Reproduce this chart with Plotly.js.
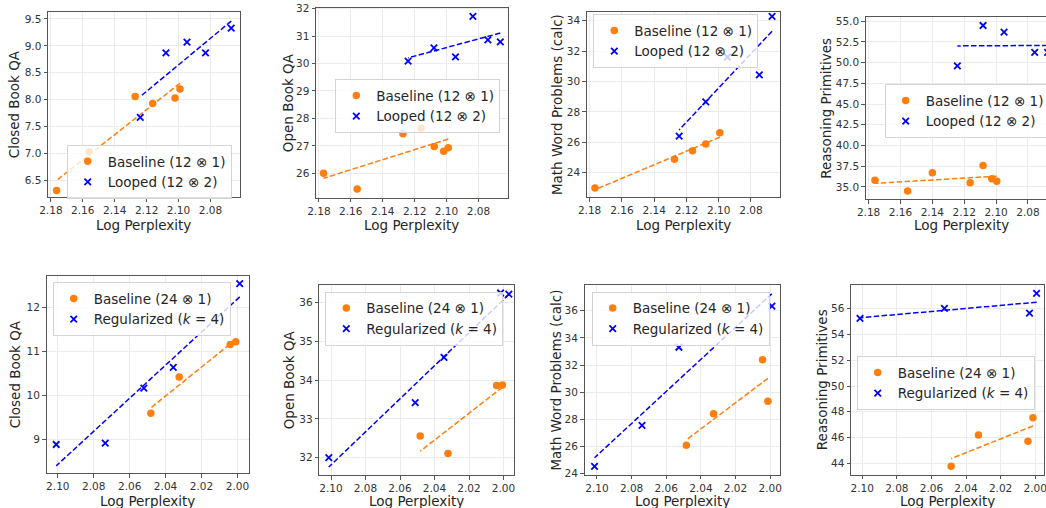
<!DOCTYPE html>
<html><head><meta charset="utf-8">
<script src="https://cdn.plot.ly/plotly-3.0.1.min.js"></script>
<style>html,body{margin:0;padding:0;overflow:hidden;background:#fff;width:1046px;height:508px}#chart{width:1060px;height:508px}</style>
</head><body><div id="chart"></div><script>
// ---------------- data ----------------
const topNames = ["Baseline (12 ⊗ 1)", "Looped (12 ⊗ 2)"];
const bottomNames = ["Baseline (24 ⊗ 1)", "Regularized (<i>k</i> = 4)"];
const yTitles = ["Closed Book QA", "Open Book QA", "Math Word Problems (calc)", "Reasoning Primitives",
                 "Closed Book QA", "Open Book QA", "Math Word Problems (calc)", "Reasoning Primitives"];
const xTitle = "Log Perplexity";

// top row: 12-layer baseline vs looped
const cbqaBase12X = [2.1764, 2.1561, 2.1272, 2.1162, 2.1022, 2.0991];
const cbqaBase12Y = [6.31, 7.03, 8.06, 7.93, 8.03, 8.20];
const cbqaLoopX   = [2.1240, 2.1079, 2.0947, 2.0831, 2.0670];
const cbqaLoopY   = [7.67, 8.87, 9.07, 8.87, 9.33];

const obqaBase12X = [2.1771, 2.1560, 2.1273, 2.1160, 2.1077, 2.1018, 2.0989];
const obqaBase12Y = [26.00, 25.43, 27.44, 27.64, 26.98, 26.80, 26.93];
const obqaLoopX   = [2.1241, 2.1079, 2.0944, 2.0835, 2.0741, 2.0663];
const obqaLoopY   = [30.09, 30.57, 30.24, 31.72, 30.86, 30.79];

const mathBase12X = [2.1767, 2.1274, 2.1162, 2.1080, 2.0993];
const mathBase12Y = [22.99, 24.88, 25.45, 25.88, 26.63];
const mathLoopX   = [2.1245, 2.1080, 2.0946, 2.0748, 2.0669];
const mathLoopY   = [26.41, 28.66, 31.61, 30.43, 34.28];

const reasBase12X = [2.1760, 2.1555, 2.1400, 2.1163, 2.1082, 2.1027, 2.0996];
const reasBase12Y = [35.80, 34.52, 36.72, 35.52, 37.60, 36.00, 35.68];
const reasLoopX   = [2.1243, 2.1082, 2.0950, 2.0758, 2.0677];
const reasLoopY   = [49.60, 54.48, 53.68, 51.24, 51.24];

// bottom row: 24-layer baseline vs regularized
const cbqaBase24X = [2.0482, 2.0324, 2.0040, 2.0009];
const cbqaBase24Y = [9.60, 10.42, 11.16, 11.22];
const cbqaRegX    = [2.1009, 2.0736, 2.0521, 2.0357, 1.9987];
const cbqaRegY    = [8.89, 8.92, 10.17, 10.64, 12.54];

const obqaBase24X = [2.0483, 2.0322, 2.0040, 2.0006];
const obqaBase24Y = [32.56, 32.11, 33.86, 33.87];
const obqaRegX    = [2.1013, 2.0512, 2.0345, 2.0017, 1.9969];
const obqaRegY    = [32.00, 33.42, 34.58, 36.24, 36.21];

const mathBase24X = [2.0484, 2.0327, 2.0044, 2.0013];
const mathBase24Y = [26.10, 28.42, 32.38, 29.33];
const mathRegX    = [2.1014, 2.0740, 2.0527, 1.9990];
const mathRegY    = [24.54, 27.56, 33.31, 36.34];

const reasBase24X = [2.0486, 2.0328, 2.0042, 2.0013];
const reasBase24Y = [43.77, 46.21, 45.72, 47.53];
const reasRegX    = [2.1013, 2.0525, 2.0033, 1.9992];
const reasRegY    = [55.25, 56.03, 55.66, 57.19];

// ---------------- layout geometry (px) ----------------
const W = 1060, H = 508;
const FONT = "DejaVu Sans, Liberation Sans, sans-serif";
const ORANGE = "#ff7f0e", BLUE = "#0000ff";

const panels = [
  {a:[cbqaBase12X,cbqaBase12Y], b:[cbqaLoopX,cbqaLoopY], names:topNames},
  {a:[obqaBase12X,obqaBase12Y], b:[obqaLoopX,obqaLoopY], names:topNames},
  {a:[mathBase12X,mathBase12Y], b:[mathLoopX,mathLoopY], names:topNames},
  {a:[reasBase12X,reasBase12Y], b:[reasLoopX,reasLoopY], names:topNames},
  {a:[cbqaBase24X,cbqaBase24Y], b:[cbqaRegX,cbqaRegY], names:bottomNames},
  {a:[obqaBase24X,obqaBase24Y], b:[obqaRegX,obqaRegY], names:bottomNames},
  {a:[mathBase24X,mathBase24Y], b:[mathRegX,mathRegY], names:bottomNames},
  {a:[reasBase24X,reasBase24Y], b:[reasRegX,reasRegY], names:bottomNames}
];

const geom = [
  {l:48,    r:239.5, t:12.3,  b:197.3, xr:[2.1818,2.0618], yr:[6.184,9.624],   dy:0.5, fy:".1f", yt:13.5,  xt:225,   leg:[66.7,145]},
  {l:316,   r:507.5, t:7.5,   b:197.5, xr:[2.1818,2.0618], yr:[25.12,32.04],   dy:1,   fy:"d",   yt:288.7, xt:225,   leg:[335.3,79.3]},
  {l:586.7, r:780.3, t:12.3,  b:197.3, xr:[2.1818,2.0618], yr:[22.38,34.55],   dy:2,   fy:"d",   yt:556.3, xt:225,   leg:[593.3,14.3]},
  {l:865.7, r:1057,  t:17.3,  b:199,   xr:[2.1818,2.0618], yr:[33.55,55.47],   dy:2.5, fy:".1f", yt:825.7, xt:225,   leg:[884.7,84.3]},
  {l:46.5,  r:248.7, t:275.7, b:473,   xr:[2.1063,1.9937], yr:[8.244,12.718],  dy:1,   fy:"d",   yt:15,    xt:500.7, leg:[52.7,282.3]},
  {l:319.3, r:513.5, t:285,   b:475,   xr:[2.1068,1.9942], yr:[31.554,36.446], dy:1,   fy:"d",   yt:289.3, xt:500.7, leg:[325.3,291.7]},
  {l:584.5, r:779.5, t:285,   b:474.7, xr:[2.1072,1.9946], yr:[23.93,37.89],   dy:2,   fy:"d",   yt:555.7, xt:500.7, leg:[591.7,291.7]},
  {l:851,   r:1043.5,t:285,   b:474.7, xr:[2.1065,1.9952], yr:[43.12,57.84],   dy:2,   fy:"d",   yt:822.3, xt:500.7, leg:[856.7,356.3]}
];

function fit(xs, ys) {
  const n = xs.length;
  const mx = xs.reduce((s,v)=>s+v,0)/n, my = ys.reduce((s,v)=>s+v,0)/n;
  let sxy = 0, sxx = 0;
  for (let i=0;i<n;i++){ sxy += (xs[i]-mx)*(ys[i]-my); sxx += (xs[i]-mx)*(xs[i]-mx); }
  const k = sxy/sxx;
  const x0 = Math.min(...xs), x1 = Math.max(...xs);
  return {x:[x0,x1], y:[my+k*(x0-mx), my+k*(x1-mx)]};
}

const traces = [];
const layout = {
  width: W, height: H,
  margin: {l:0, r:0, t:0, b:0},
  paper_bgcolor: "#fff", plot_bgcolor: "#fff",
  font: {family: FONT, color: "#262626"},
  annotations: [],
  showlegend: true
};

panels.forEach((p, i) => {
  const k = i + 1, g = geom[i];
  const xa = "x" + (k>1?k:""), ya = "y" + (k>1?k:"");
  const legId = "legend" + (k>1?k:"");
  const fa = fit(p.a[0], p.a[1]), fb = fit(p.b[0], p.b[1]);
  traces.push({x: fa.x, y: fa.y, mode: "lines", xaxis: xa, yaxis: ya, showlegend: false, hoverinfo: "skip",
               line: {color: ORANGE, width: 1.5, dash: "5.5px,2.4px"}});
  traces.push({x: fb.x, y: fb.y, mode: "lines", xaxis: xa, yaxis: ya, showlegend: false, hoverinfo: "skip",
               line: {color: BLUE, width: 1.5, dash: "5.5px,2.4px"}});
  traces.push({x: p.a[0], y: p.a[1], mode: "markers", name: p.names[0], xaxis: xa, yaxis: ya, legend: legId,
               marker: {color: ORANGE, size: 7.5, line: {width: 0}}});
  traces.push({x: p.b[0], y: p.b[1], mode: "markers", name: p.names[1], xaxis: xa, yaxis: ya, legend: legId,
               marker: {symbol: "x-thin", size: 6.5, color: BLUE, line: {color: BLUE, width: 1.8}}});

  const common = {showgrid: true, gridcolor: "#ebebeb", gridwidth: 1, zeroline: false,
                  showline: true, mirror: true, linecolor: "#555", linewidth: 1,
                  ticks: "outside", ticklen: 3.5, tickwidth: 1, tickcolor: "#555",
                  tickfont: {family: FONT, size: 10.5, color: "#333"}};
  layout["xaxis" + (k>1?k:"")] = Object.assign({}, common, {
    domain: [g.l/W, g.r/W], range: g.xr, anchor: ya, tick0: 0, dtick: 0.02, tickformat: ".2f"});
  layout["yaxis" + (k>1?k:"")] = Object.assign({}, common, {
    domain: [1 - g.b/H, 1 - g.t/H], range: g.yr, anchor: xa, tick0: 0, dtick: g.dy, tickformat: g.fy});
  layout[legId] = {x: g.leg[0]/W, y: 1 - g.leg[1]/H, xanchor: "left", yanchor: "top",
                   bgcolor: "rgba(255,255,255,0.8)", bordercolor: "#d4d4d4", borderwidth: 1,
                   font: {family: FONT, size: 13.5, color: "#262626"}, traceorder: "normal"};
  layout.annotations.push({xref: "paper", yref: "paper", x: g.yt/W, y: 1 - ((g.t+g.b)/2)/H,
    text: yTitles[i], textangle: -90, showarrow: false, xanchor: "center", yanchor: "middle",
    font: {family: FONT, size: 13.5, color: "#262626"}});
  layout.annotations.push({xref: "paper", yref: "paper", x: ((g.l+g.r)/2)/W, y: 1 - g.xt/H,
    text: xTitle, showarrow: false, xanchor: "center", yanchor: "middle",
    font: {family: FONT, size: 13.5, color: "#262626"}});
});

Plotly.newPlot("chart", traces, layout, {staticPlot: true, displayModeBar: false});
</script></body></html>
